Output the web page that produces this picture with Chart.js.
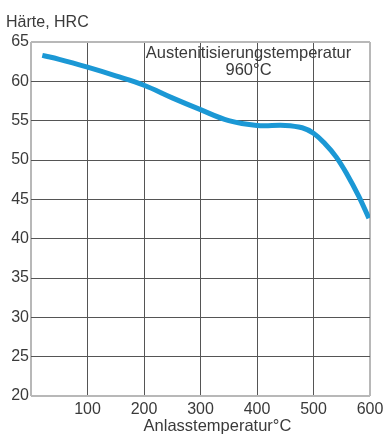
<!DOCTYPE html>
<html>
<head>
<meta charset="utf-8">
<script src="https://cdn.jsdelivr.net/npm/chart.js@4/dist/chart.umd.min.js"></script>
<style>
  html, body { margin: 0; padding: 0; background: #fff; }
  #wrap { width: 384px; height: 436px; }
</style>
</head>
<body>
<div id="wrap"><canvas id="haerte"></canvas></div>
<script>
// Anlasstemperatur (°C) und Härte (HRC)
const temperatures = [20, 50, 100, 150, 200, 250, 300, 350, 400, 450, 480, 500, 520, 540, 560, 580, 598];
const hardness = [63.3, 62.8, 61.8, 60.7, 59.5, 57.9, 56.4, 55.0, 54.4, 54.4, 54.1, 53.4, 52.1, 50.4, 48.1, 45.4, 42.6];

const xTicks = [100, 200, 300, 400, 500, 600];
const yTitle = 'Härte, HRC';
const xTitle = 'Anlasstemperatur°C';
const noteLines = ['Austenitisierungstemperatur', '960°C'];

const font = '"Liberation Sans", Arial, sans-serif';
const textColor = '#3a3a3a';

// Achsentitel und Notiz werden frei auf den Canvas geschrieben
const labelsPlugin = {
    id: 'labels',
    afterDraw(chart) {
        const ctx = chart.ctx;
        const x = chart.scales.x;
        ctx.save();
        ctx.fillStyle = textColor;
        ctx.font = '16px ' + font;
        ctx.textBaseline = 'middle';
        ctx.textAlign = 'left';
        ctx.fillText(yTitle, 6, 23);
        ctx.textAlign = 'center';
        ctx.font = '16.5px ' + font;
        ctx.fillText(xTitle, x.getPixelForValue(330), 426);
        const cx = x.getPixelForValue(385);
        ctx.fillText(noteLines[0], cx, 53);
        ctx.fillText(noteLines[1], cx, 70);
        ctx.restore();
    }
};

new Chart('haerte', {
    type: 'line',
    data: {
        datasets: [{
            data: temperatures.map((t, i) => ({ x: t, y: hardness[i] })),
            borderColor: '#1b98d5',
            borderWidth: 5,
            pointRadius: 0,
            tension: 0.4,
            borderCapStyle: 'butt',
        }]
    },
    options: {
        responsive: true,
        maintainAspectRatio: false,
        animation: false,
        layout: { padding: { top: 42, right: 14, left: 0, bottom: 0 } },
        plugins: { legend: { display: false }, tooltip: { enabled: false } },
        scales: {
            x: {
                type: 'linear',
                min: 0,
                max: 600,
                afterBuildTicks: s => { s.ticks = [0].concat(xTicks).map(v => ({ value: v })); },
                afterFit: s => { s.height = 40; s.paddingLeft = 0; s.paddingRight = 0; },
                grid: {
                    drawTicks: false,
                    color: c => (c.tick.value === 0 || c.tick.value === 600) ? '#b8b8b8' : '#555',
                    lineWidth: c => (c.tick.value === 0 || c.tick.value === 600) ? 2 : 1,
                },
                border: { display: false },
                ticks: {
                    padding: 4,
                    color: textColor,
                    font: { family: font, size: 16 },
                    callback: v => v === 0 ? '' : v,
                }
            },
            y: {
                min: 20,
                max: 65,
                afterFit: s => { s.width = 31; },
                grid: {
                    drawTicks: false,
                    color: c => (c.tick.value === 20 || c.tick.value === 65) ? '#b8b8b8' : '#555',
                    lineWidth: c => (c.tick.value === 20 || c.tick.value === 65) ? 2 : 1,
                },
                border: { display: false },
                ticks: {
                    stepSize: 5,
                    padding: 2,
                    color: textColor,
                    font: { family: font, size: 16 },
                }
            }
        }
    },
    plugins: [labelsPlugin]
});
</script>
</body>
</html>
